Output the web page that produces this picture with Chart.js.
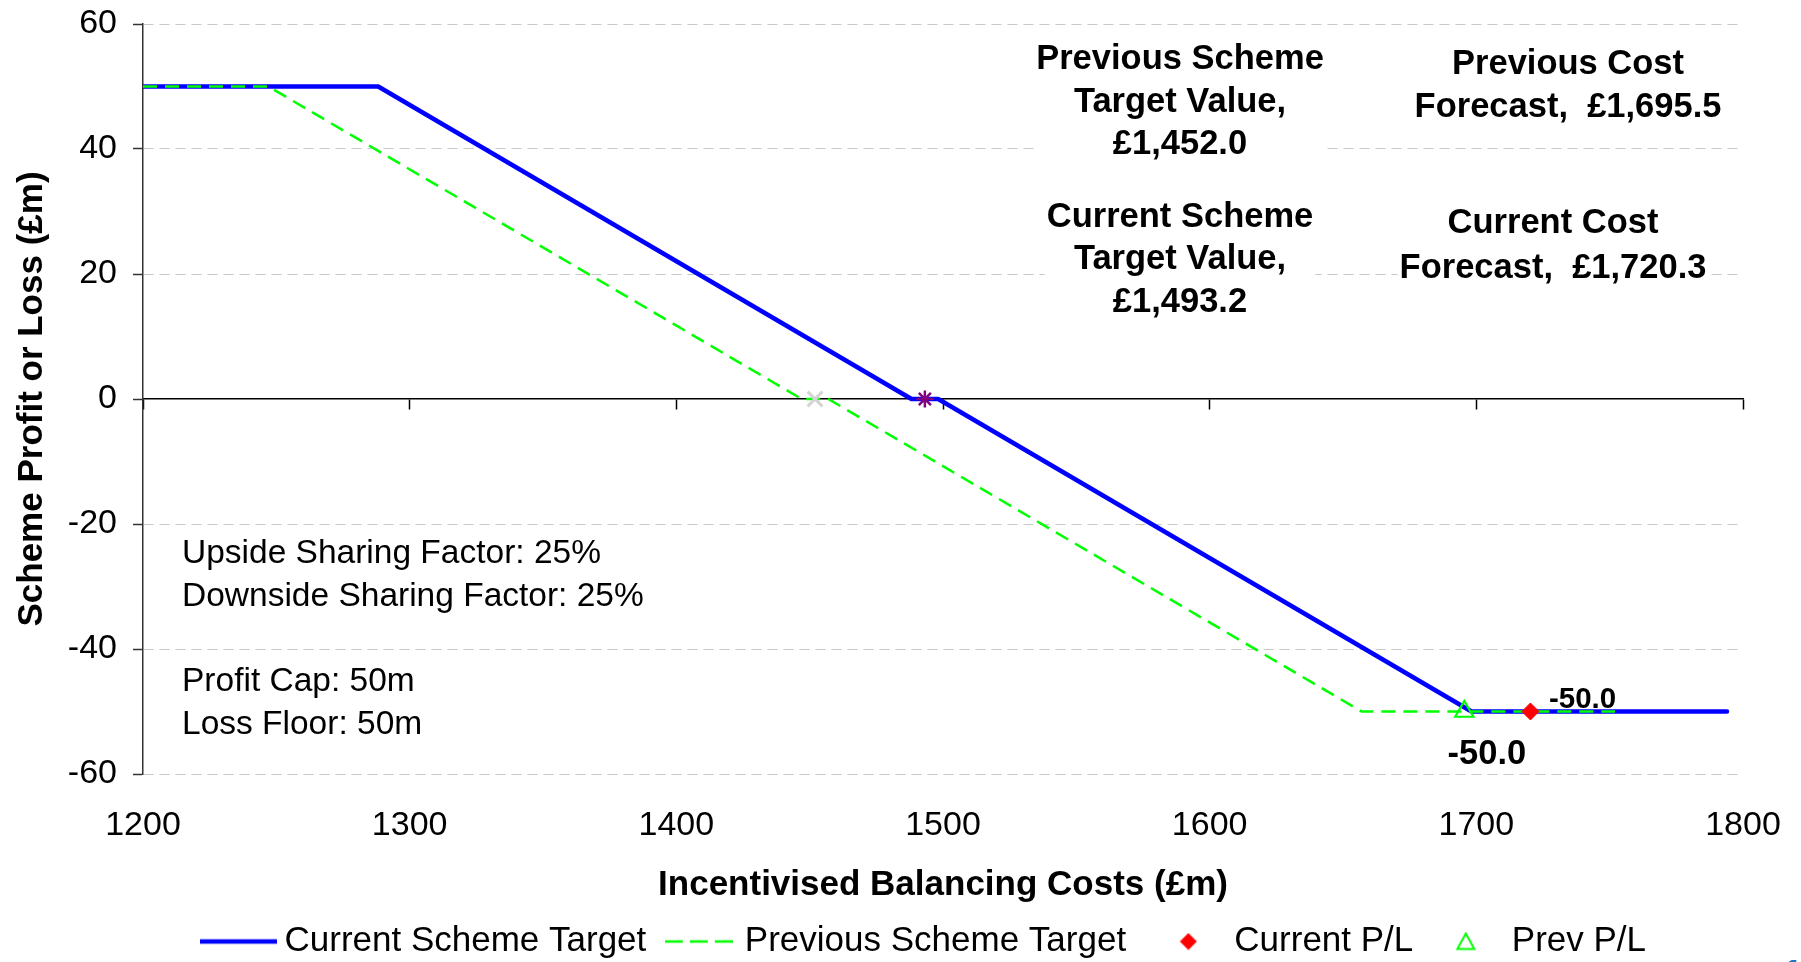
<!DOCTYPE html>
<html>
<head>
<meta charset="utf-8">
<title>Scheme Profit or Loss</title>
<script src="https://cdn.jsdelivr.net/npm/chart.js@4/dist/chart.umd.min.js"></script>
<style>
  html, body { margin: 0; padding: 0; background: #fff; }
</style>
</head>
<body>
<canvas id="plChart" width="1801" height="962"></canvas>
<script>
// corners of the two sharing lines (cost £m -> profit/loss £m)
const currentCosts = [1200, 1288.2, 1488.2, 1498.2, 1698.2, 1794];
const currentProfit = [50, 50, 0, 0, -50, -50];
const previousCosts = [1200, 1247, 1447, 1457, 1657, 1752];
const previousProfit = [50, 50, 0, 0, -50, -50];

const currentTarget = 1493.2;
const previousTarget = 1452.0;
const currentForecast = 1720.3;
const previousForecast = 1695.5;
const currentPL = -50.0;
const prevPL = -50.0;

const xTicks = [1200, 1300, 1400, 1500, 1600, 1700, 1800];
const yTicks = [-60, -40, -20, 0, 20, 40, 60];

const sharingNotes = ['Upside Sharing Factor: 25%', 'Downside Sharing Factor: 25%', '', 'Profit Cap: 50m', 'Loss Floor: 50m'];

const BLUE = '#0000ff';
const GREEN = '#00ff00';
const FONT = '"Liberation Sans", Arial, Helvetica, sans-serif';

Chart.defaults.font.family = FONT;
Chart.defaults.color = '#000';

function pts(xs, ys) {
  return xs.map((x, i) => ({ x: x, y: ys[i] }));
}

function money(v) {
  const parts = v.toFixed(1).split('.');
  return '£' + parts[0].replace(/\B(?=(\d{3})+(?!\d))/g, ',') + '.' + parts[1];
}

const noteBlocks = [
  { lines: ['Previous Scheme', 'Target Value,', money(previousTarget)], cx: 1180, y0: 69.3, step: 42.3 },
  { lines: ['Current Scheme', 'Target Value,', money(currentTarget)], cx: 1180, y0: 226.7, step: 42.5 },
  { lines: ['Previous Cost', 'Forecast,  ' + money(previousForecast)], cx: 1568, y0: 74, step: 43.3 },
  { lines: ['Current Cost', 'Forecast,  ' + money(currentForecast)], cx: 1553, y0: 233.3, step: 45 }
];

// small pictures used as legend symbols
function sample(w, h, draw) {
  const c = document.createElement('canvas');
  c.width = w; c.height = h;
  draw(c.getContext('2d'), w, h);
  return c;
}
const legendLine = sample(77, 8, (g, w, h) => {
  g.strokeStyle = BLUE; g.lineWidth = 4.5;
  g.beginPath(); g.moveTo(0, h / 2); g.lineTo(w, h / 2); g.stroke();
});
const legendDash = sample(68, 6, (g, w, h) => {
  g.strokeStyle = GREEN; g.lineWidth = 2.5; g.setLineDash([18, 7]);
  g.beginPath(); g.moveTo(0, h / 2); g.lineTo(w, h / 2); g.stroke();
});
const legendDiamond = sample(18, 18, (g) => {
  g.fillStyle = '#ff0000';
  g.beginPath(); g.moveTo(9, 0.5); g.lineTo(17.5, 9); g.lineTo(9, 17.5); g.lineTo(0.5, 9); g.closePath(); g.fill();
});
const legendTriangle = sample(20, 20, (g) => {
  g.strokeStyle = GREEN; g.lineWidth = 2;
  g.beginPath(); g.moveTo(10, 2); g.lineTo(18.5, 17.5); g.lineTo(1.5, 17.5); g.closePath(); g.stroke();
});

const legendItems = [
  { text: 'Current Scheme Target', pointStyle: legendLine, datasetIndex: 0 },
  { text: 'Previous Scheme Target ', pointStyle: legendDash, datasetIndex: 1 },
  { text: 'Current P/L', pointStyle: legendDiamond, datasetIndex: 2 },
  { text: 'Prev P/L', pointStyle: legendTriangle, datasetIndex: 3 }
].map(it => Object.assign(it, {
  fillStyle: 'rgba(0,0,0,0)', strokeStyle: 'rgba(0,0,0,0)', lineWidth: 1,
  fontColor: '#000', hidden: false
}));

const notesPlugin = {
  id: 'notes',
  beforeDatasetsDraw(chart) {
    const g = chart.ctx;
    g.save();
    g.font = 'bold 34.5px ' + FONT;
    noteBlocks.forEach(b => {
      const w = Math.max(...b.lines.map(t => g.measureText(t).width));
      g.fillStyle = '#fff';
      g.fillRect(b.cx - w / 2 - 2, b.y0 - 31, w + 4, (b.lines.length - 1) * b.step + 40);
      g.fillStyle = '#000';
      g.textAlign = 'center';
      g.textBaseline = 'alphabetic';
      b.lines.forEach((t, i) => g.fillText(t, b.cx, b.y0 + i * b.step));
    });
    g.font = '33.5px ' + FONT;
    g.textAlign = 'left';
    sharingNotes.forEach((t, i) => {
      if (t) g.fillText(t, 182, 563 + i * 42.8);
    });
    g.restore();
  },
  afterDatasetsDraw(chart) {
    const g = chart.ctx;
    g.save();
    g.fillStyle = '#000';
    g.textBaseline = 'alphabetic';
    const cur = chart.getDatasetMeta(2).data[0];
    g.font = 'bold 29.5px ' + FONT;
    g.textAlign = 'left';
    g.fillText(currentPL.toFixed(1), cur.x + 18.5, cur.y - 4);
    const prev = chart.getDatasetMeta(3).data[0];
    g.font = 'bold 34.5px ' + FONT;
    g.textAlign = 'center';
    g.fillText(prevPL.toFixed(1), prev.x + 22.5, prev.y + 52);
    g.restore();
  },
  afterDraw(chart) {
    const g = chart.ctx;
    g.save();
    g.font = 'bold italic 36px ' + FONT;
    g.fillStyle = '#1f78c4';
    g.textAlign = 'left';
    g.fillText('12', 1780, 976);
    g.restore();
  }
};

const setXTicks = s => { s.ticks = xTicks.map(v => ({ value: v })); };

new Chart(document.getElementById('plChart').getContext('2d'), {
  type: 'line',
  data: {
    datasets: [
      {
        label: 'Current Scheme Target',
        data: pts(currentCosts, currentProfit),
        xAxisID: 'x', yAxisID: 'y',
        borderColor: BLUE, borderWidth: 4.5,
        borderJoinStyle: 'round', borderCapStyle: 'round',
        pointRadius: 0, fill: false, order: 4
      },
      {
        label: 'Previous Scheme Target',
        data: pts(previousCosts, previousProfit),
        xAxisID: 'x', yAxisID: 'y',
        borderColor: GREEN, borderWidth: 2.5, borderDash: [14, 8],
        pointRadius: 0, fill: false, order: 3
      },
      {
        label: 'Current P/L',
        data: [{ x: currentForecast, y: currentPL }],
        xAxisID: 'x', yAxisID: 'y', showLine: false,
        pointStyle: 'rectRot', pointRadius: 8.5,
        pointBackgroundColor: '#ff0000', pointBorderColor: '#ff0000', pointBorderWidth: 1,
        order: 1
      },
      {
        label: 'Prev P/L',
        data: [{ x: previousForecast, y: prevPL }],
        xAxisID: 'x', yAxisID: 'y', showLine: false,
        pointStyle: 'triangle', pointRadius: 10.5,
        pointBackgroundColor: 'rgba(0,0,0,0)', pointBorderColor: GREEN, pointBorderWidth: 2.2,
        order: 1
      },
      {
        label: 'Current Target',
        data: [{ x: currentTarget, y: 0 }],
        xAxisID: 'x', yAxisID: 'y', showLine: false,
        pointStyle: 'star', pointRadius: 8.5,
        pointBorderColor: '#800080', pointBorderWidth: 2.5,
        order: 2
      },
      {
        label: 'Previous Target',
        data: [{ x: previousTarget, y: 0 }],
        xAxisID: 'x', yAxisID: 'y', showLine: false,
        pointStyle: 'crossRot', pointRadius: 10.5,
        pointBorderColor: '#d4d4d4', pointBorderWidth: 3,
        order: 2
      }
    ]
  },
  options: {
    responsive: false,
    animation: false,
    devicePixelRatio: 1,
    layout: { padding: { left: 55, right: 0, top: 24, bottom: -7 } },
    scales: {
      x: {
        type: 'linear', position: 'bottom', min: 1200, max: 1800,
        afterBuildTicks: setXTicks,
        afterFit: s => { s.height = 126; s.paddingRight = 58; },
        grid: { display: false, drawTicks: false },
        border: { display: false },
        ticks: { font: { size: 34 }, padding: 31, maxRotation: 0, autoSkip: false, callback: v => String(v) },
        title: {
          display: true, text: 'Incentivised Balancing Costs (£m)',
          font: { size: 35, weight: 'bold', lineHeight: 1.2 },
          padding: { top: 0, bottom: -6 }
        }
      },
      x2: {
        type: 'linear', axis: 'x', position: { y: 0 }, min: 1200, max: 1800,
        afterBuildTicks: setXTicks,
        grid: { drawOnChartArea: false, drawTicks: true, tickLength: 10, tickColor: '#000', tickWidth: 1.5 },
        border: { display: true, color: '#000', width: 1.5 },
        ticks: { display: false }
      },
      y: {
        type: 'linear', position: 'left', min: -60, max: 60,
        afterBuildTicks: s => { s.ticks = yTicks.map(v => ({ value: v })); },
        afterFit: s => { s.width = 88; s.paddingTop = 0; s.paddingBottom = 0; },
        grid: {
          color: c => (c.tick && c.tick.value === 0) ? 'rgba(0,0,0,0)' : '#c8c8c8',
          lineWidth: 1, drawTicks: true, tickLength: 10, tickColor: '#333', tickWidth: 1.5
        },
        border: { display: true, color: '#333', width: 1.5, dash: [10, 6] },
        ticks: { font: { size: 34 }, padding: 16, callback: v => String(v) },
        title: {
          display: true, text: 'Scheme Profit or Loss (£m)',
          font: { size: 35, weight: 'bold', lineHeight: 1.2 },
          padding: { top: -44, bottom: 0 }
        }
      }
    },
    plugins: {
      tooltip: { enabled: false },
      legend: {
        position: 'bottom',
        labels: {
          usePointStyle: true,
          pointStyleWidth: 57,
          padding: 24,
          font: { size: 35 },
          generateLabels: () => legendItems
        }
      }
    }
  },
  plugins: [notesPlugin]
});
</script>
</body>
</html>
